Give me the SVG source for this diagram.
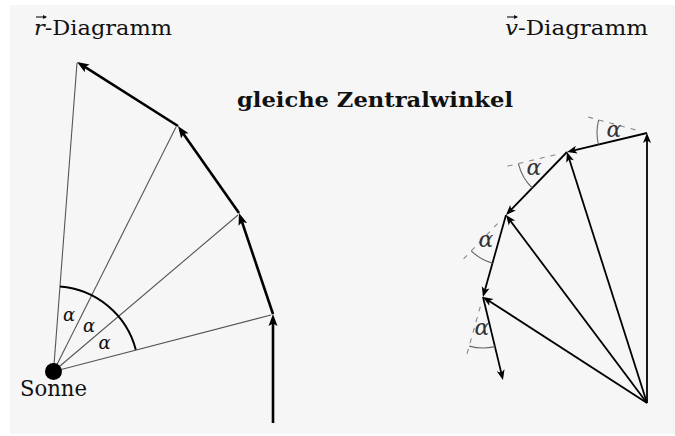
<svg xmlns="http://www.w3.org/2000/svg" width="675" height="436" viewBox="0 0 675 436">
<style>
.ttl{font-size:21px}
.bold{font-size:21px;font-weight:bold}
.al{font-size:18px;font-style:italic;text-anchor:middle}
.ar{font-size:22px;font-style:italic;text-anchor:middle}
.thick{stroke:#000;stroke-width:2.6;fill:none;marker-end:url(#hl)}
.rad{stroke:#555;stroke-width:1.1;fill:none}
.va{stroke:#000;stroke-width:1.8;fill:none;marker-end:url(#hr)}
.dash{stroke:#888;stroke-width:1.1;stroke-dasharray:5 6;fill:none}
.arc{stroke:#666;stroke-width:1.1;fill:none}
.acc{stroke:#111;stroke-width:1.1;fill:none;marker-end:url(#ha)}
</style>
<defs>
<marker id="hl" markerUnits="userSpaceOnUse" markerWidth="14" markerHeight="12" refX="6" refY="4.5" orient="auto" overflow="visible">
<path d="M0,0 L12,4.5 L0,9 L2.5,4.5 z" fill="#000"/>
</marker>
<marker id="hr" markerUnits="userSpaceOnUse" markerWidth="12" markerHeight="10" refX="5" refY="4" orient="auto" overflow="visible">
<path d="M0,0 L10,4 L0,8 L2.5,4 z" fill="#000"/>
</marker>
<marker id="ha" markerUnits="userSpaceOnUse" markerWidth="6" markerHeight="6" refX="3" refY="2" orient="auto" overflow="visible">
<path d="M0,0 L4,2 L0,4 z" fill="#111"/>
</marker>
</defs>
<rect x="0" y="0" width="675" height="436" fill="#ffffff"/>
<rect x="10" y="5" width="665" height="429" fill="#f6f6f6"/>

<g id="labels" font-family="'DejaVu Serif', 'Liberation Serif', serif" fill="#111">
<text class="ttl" x="34" y="35" textLength="138" lengthAdjust="spacingAndGlyphs"><tspan font-style="italic">r</tspan>-Diagramm</text>
<line class="acc" x1="36" y1="17" x2="46" y2="17"/>
<text class="ttl" x="505" y="35" textLength="143" lengthAdjust="spacingAndGlyphs"><tspan font-style="italic">v</tspan>-Diagramm</text>
<line class="acc" x1="507" y1="17" x2="517" y2="17"/>
<text class="bold" x="237" y="107" textLength="276" lengthAdjust="spacingAndGlyphs">gleiche Zentralwinkel</text>
</g>

<g id="r-radii">
<line class="rad" x1="53.5" y1="371.5" x2="271" y2="315"/>
<line class="rad" x1="53.5" y1="371.5" x2="238" y2="215"/>
<line class="rad" x1="53.5" y1="371.5" x2="176" y2="127"/>
<line class="rad" x1="53.5" y1="371.5" x2="77" y2="63"/>
</g>

<g id="sonne" font-family="'DejaVu Serif', 'Liberation Serif', serif">
<circle cx="53.5" cy="371.5" r="8.5" fill="#000"/>
<text x="20" y="396" font-size="23" fill="#111" textLength="67" lengthAdjust="spacingAndGlyphs">Sonne</text>
</g>

<g id="r-angle" font-family="'DejaVu Serif', 'Liberation Serif', serif" fill="#111">
<path d="M135.8,349.7 A85,85 0 0 0 60,286.5" fill="none" stroke="#000" stroke-width="2"/>
<text class="al" x="69" y="321">α</text>
<text class="al" x="89" y="332">α</text>
<text class="al" x="104.5" y="349">α</text>
</g>

<g id="connectors">
<line class="thick" x1="273" y1="423" x2="273" y2="320"/>
<line class="thick" x1="273" y1="314" x2="240.9" y2="218.7"/>
<line class="thick" x1="239" y1="213" x2="181.4" y2="130.9"/>
<line class="thick" x1="178" y1="126" x2="82.1" y2="65.2"/>

<line class="va" x1="647" y1="403" x2="647" y2="138"/>
<line class="va" x1="647" y1="403" x2="568.5" y2="156.8"/>
<line class="va" x1="647" y1="403" x2="509" y2="219"/>
<line class="va" x1="647" y1="403" x2="487.2" y2="299.7"/>

<line class="va" x1="647" y1="133" x2="571.9" y2="150.8"/>
<line class="va" x1="567" y1="152" x2="509.5" y2="211.4"/>
<line class="va" x1="506" y1="215" x2="484.3" y2="292.2"/>
<line class="va" x1="483" y1="297" x2="501.8" y2="375.1"/>
</g>

<g id="v-angles" font-family="'DejaVu Serif', 'Liberation Serif', serif" fill="#333">
<line class="dash" x1="635.4" y1="129.9" x2="587.2" y2="116.8"/>
<path class="arc" d="M598.4,144.6 A50,50 0 0 1 598.7,119.9"/>
<text class="ar" x="614" y="137">α</text>

<line class="dash" x1="555.3" y1="154.8" x2="504.7" y2="166.8"/>
<path class="arc" d="M532.3,188 A50,50 0 0 1 518.4,163.6"/>
<text class="ar" x="534" y="175">α</text>

<line class="dash" x1="497.6" y1="223.6" x2="461.5" y2="261"/>
<path class="arc" d="M492.5,263.1 A50,50 0 0 1 471.2,250.9"/>
<text class="ar" x="486" y="247">α</text>

<line class="dash" x1="480.3" y1="306.6" x2="465.7" y2="358.6"/>
<path class="arc" d="M494.9,346.6 A51,51 0 0 1 469.2,346.1"/>
<text class="ar" x="482" y="335">α</text>
</g>
</svg>
